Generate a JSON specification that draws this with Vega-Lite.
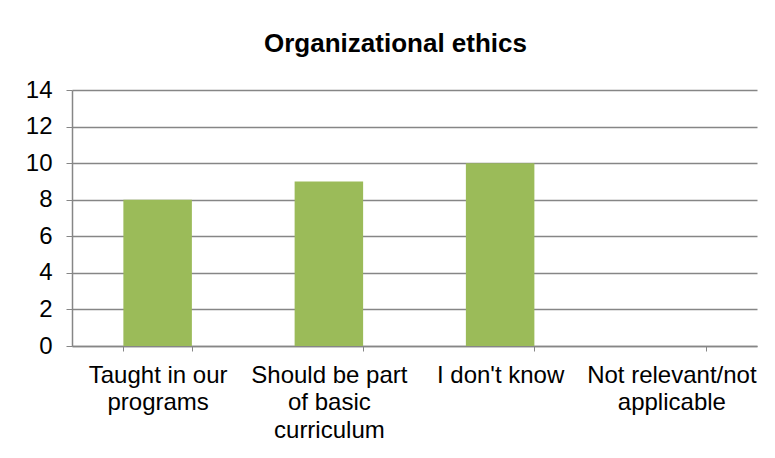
{
  "$schema": "https://vega.github.io/schema/vega-lite/v6.json",
  "width": 685,
  "height": 256,
  "autosize": {"type": "none"},
  "padding": {"left": 72, "top": 90, "right": 18, "bottom": 112},
  "background": "white",
  "title": {
    "text": "Organizational ethics",
    "font": "Liberation Sans",
    "fontSize": 26,
    "fontWeight": "bold",
    "color": "#000000",
    "anchor": "middle",
    "baseline": "alphabetic",
    "offset": 0,
    "dx": -19
  },
  "data": {
    "values": [
      {"response": "Taught in our programs", "count": 8},
      {"response": "Should be part of basic curriculum", "count": 9},
      {"response": "I don't know", "count": 10},
      {"response": "Not relevant/not applicable", "count": 0}
    ]
  },
  "mark": {"type": "bar", "color": "#9BBB59"},
  "encoding": {
    "x": {
      "field": "response",
      "type": "nominal",
      "sort": null,
      "scale": {"paddingInner": 0.6, "paddingOuter": 0.3},
      "axis": {
        "title": null,
        "labelAngle": 0,
        "labelFont": "Liberation Sans",
        "labelFontSize": 24,
        "labelColor": "#000000",
        "labelLineHeight": 27.5,
        "labelPadding": 12,
        "labelLimit": 250,
        "tickBand": "extent",
        "tickSize": 5,
        "tickColor": "#868686",
        "domainColor": "#868686",
        "domainWidth": 1.5,
        "labelExpr": "datum.value == 'Taught in our programs' ? ['Taught in our', 'programs'] : datum.value == 'Should be part of basic curriculum' ? ['Should be part', 'of basic', 'curriculum'] : datum.value == 'Not relevant/not applicable' ? ['Not relevant/not', 'applicable'] : datum.value"
      }
    },
    "y": {
      "field": "count",
      "type": "quantitative",
      "scale": {"domain": [0, 14], "nice": false},
      "axis": {
        "title": null,
        "values": [0, 2, 4, 6, 8, 10, 12, 14],
        "labelFont": "Liberation Sans",
        "labelFontSize": 24,
        "labelColor": "#000000",
        "labelPadding": 14,
        "tickSize": 6,
        "tickColor": "#868686",
        "domainColor": "#868686",
        "domainWidth": 1.5,
        "grid": true,
        "gridColor": "#868686",
        "gridWidth": 1.5
      }
    }
  },
  "config": {"view": {"stroke": null}}
}
